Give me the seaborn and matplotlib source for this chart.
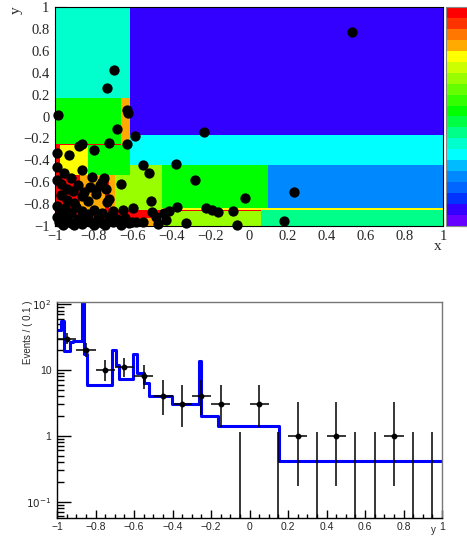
import numpy as np
import seaborn as sns
import matplotlib as mpl
import matplotlib.pyplot as plt
from matplotlib.patches import Rectangle
from matplotlib.colors import ListedColormap, LogNorm
from matplotlib.ticker import MultipleLocator, FixedLocator, FuncFormatter, NullFormatter, LogLocator

sns.set_style('ticks')
plt.rcParams['font.family'] = ['Liberation Sans', 'DejaVu Sans']

# palette of the density levels (bottom to top of the colour bar)
palette = ['#6600ff', '#3300ff', '#0033ff', '#0066ff', '#0088ff', '#00bbff', '#00ffff',
           '#00ffcc', '#00ff88', '#00ff44', '#00ff00', '#33ff00', '#66ff00', '#99ff00',
           '#ccff00', '#ffff00', '#ffaa00', '#ff7700', '#ff3300', '#ff0000']

# cells of the binned 2D density (x range, y range, colour level)
cell_x0 = [-0.613, -1, -1, -0.66, -1, -0.613, -1, -0.975, -0.83, -1, -0.87, -0.74,
           -0.72, -0.69, -0.613, -0.87, -0.87, -0.62, -0.45, 0.1, -0.45, -0.45, -0.45, 0.06]
cell_x1 = [1, -0.613, -0.66, -0.613, -0.66, 1, -0.975, -0.83, -0.613, -0.87, -0.74, -0.72,
           -0.69, -0.613, -0.45, -0.45, -0.62, -0.45, 0.1, 1, 1, 0.06, 0.06, 1]
cell_y0 = [-0.165, 0.165, -0.25, -0.262, -0.262, -0.44, -0.53, -0.53, -0.53, -1, -0.85, -0.85,
           -0.85, -0.85, -0.85, -0.93, -1, -1, -0.84, -0.84, -0.852, -0.862, -1, -1]
cell_y1 = [1, 1, 0.165, 0.165, -0.25, -0.165, -0.262, -0.262, -0.262, -0.53, -0.53, -0.53,
           -0.53, -0.53, -0.44, -0.85, -0.93, -0.93, -0.44, -0.44, -0.84, -0.852, -0.862, -0.852]
cell_level = [1, 7, 10, 16, 19, 6, 19, 15, 10, 19, 16, 19,
              16, 13, 13, 19, 19, 16, 10, 4, 15, 19, 13, 8]

# generated events
pts_x = [0.53, -0.695, -0.73, -0.985, -0.63, -0.625,
         -0.23, -0.68, -0.59,
         -0.86, -0.875, -0.72, -0.63,
         -0.80, -0.99, -0.93,
         -0.99, -0.86, -0.545, -0.375,
         -0.515, -0.28, -0.955, -0.99, -0.92, -0.81, -0.745, -0.76,
         0.23, -0.66, -0.82, -0.97, -0.94, -0.905, -0.88, -0.85, -0.79, -0.77, -0.735,
         -0.505, -0.02, -0.73, -0.72, -0.94, -0.90, -0.86, -0.83, -0.97, -0.79,
         -0.60, -0.37, -0.22, -0.19, -0.16, -0.085, -0.41, -0.44, -0.50, -0.99,
         -0.97, -0.95, -0.92, -0.89, -0.86, -0.83, -0.80, -0.76, -0.70, -0.65,
         -0.06, -0.325, 0.18, -0.43, -0.48, -0.47, -0.545, -0.58, -0.605, -0.99,
         -0.98, -0.96, -0.94, -0.92, -0.90, -0.88, -0.86, -0.84, -0.82, -0.80,
         -0.78, -0.76, -0.74, -0.72, -0.70, -0.68, -0.66, -0.64, -0.95, -0.62]
pts_y = [0.77, 0.425, 0.26, 0.01, 0.055, 0.03,
         -0.14, -0.115, -0.18,
         -0.25, -0.27, -0.245, -0.255,
         -0.305, -0.33, -0.35,
         -0.46, -0.485, -0.445, -0.435,
         -0.515, -0.58, -0.52, -0.58, -0.565, -0.55, -0.565, -0.595,
         -0.685, -0.62, -0.64, -0.62, -0.665, -0.68, -0.63, -0.69, -0.67, -0.625, -0.66,
         -0.77, -0.745, -0.78, -0.75, -0.76, -0.79, -0.73, -0.77, -0.72, -0.71,
         -0.84, -0.83, -0.835, -0.855, -0.87, -0.86, -0.865, -0.885, -0.87, -0.82,
         -0.87, -0.84, -0.88, -0.83, -0.86, -0.89, -0.85, -0.88, -0.86, -0.85,
         -0.99, -0.975, -0.95, -0.945, -0.915, -0.98, -0.96, -0.96, -0.965, -0.92,
         -0.96, -0.99, -0.93, -0.97, -0.995, -0.94, -0.98, -0.92, -0.96, -0.99,
         -0.93, -0.97, -0.995, -0.92, -0.96, -0.94, -0.99, -0.93, -0.905, -0.975]

# 68% Poisson intervals used for the error bars
pois_n = [0, 1, 3, 4, 8, 10, 11, 20, 30]
pois_lo = [0, 0.173, 1.367, 2.086, 5.24, 6.90, 7.74, 15.57, 24.56]
pois_hi = [1.148, 3.300, 5.918, 7.163, 11.94, 14.26, 15.41, 25.54, 36.53]

# projected model (step function)
model_edges = [-1, -0.979, -0.966, -0.931, -0.917, -0.871, -0.860, -0.845, -0.716, -0.693,
               -0.676, -0.605, -0.583, -0.548, -0.52, -0.405, -0.264, -0.25, -0.166, 0.155, 1]
model_vals = [40, 55, 19.2, 26.7, 27.9, 110, 17.5, 6.0, 20, 12,
              7.4, 17.5, 9.1, 6.4, 4.0, 3.0, 13.9, 1.97, 1.42, 0.41]

W, H = 467, 536
fig = plt.figure(figsize=(W / 100, H / 100), dpi=100)
ax1 = fig.add_axes([55 / W, 1 - 226 / H, 388 / W, 219 / H])
cax = fig.add_axes([446 / W, 1 - 226 / H, 22 / W, 219 / H])
ax2 = fig.add_axes([57 / W, 1 - 518 / H, 385 / W, 216 / H])

cmap = ListedColormap(palette)

# ---- top: 2D density with events
for x0, x1, y0, y1, lv in zip(cell_x0, cell_x1, cell_y0, cell_y1, cell_level):
    ax1.add_patch(Rectangle((x0, y0), x1 - x0, y1 - y0, facecolor=cmap(lv),
                            edgecolor='none', zorder=1))
sns.scatterplot(x=pts_x, y=pts_y, ax=ax1, color='black', s=55, linewidth=0,
                clip_on=False, zorder=5, legend=False)
ax1.set_xlim(-1, 1)
ax1.set_ylim(-1, 1)
root_fmt = FuncFormatter(lambda v, _: ('%g' % round(v, 2)).replace('-', '\u2212'))
for axis in (ax1.xaxis, ax1.yaxis):
    axis.set_major_locator(MultipleLocator(0.2))
    axis.set_minor_locator(MultipleLocator(0.04))
    axis.set_major_formatter(root_fmt)
ax1.tick_params(which='both', direction='in', top=False, right=False,
                labelsize=10.5, labelfontfamily='Liberation Serif', width=0.8, color='black')
ax1.tick_params(axis='y', which='major', length=8, pad=4)
ax1.tick_params(axis='y', which='minor', length=4)
ax1.tick_params(axis='x', which='major', length=6, pad=3)
ax1.tick_params(axis='x', which='minor', length=3)
for sp in ax1.spines.values():
    sp.set_color('black')
    sp.set_linewidth(0.8)
fig.text(16 / W, 1 - 6 / H, 'y', rotation=90, ha='center', va='top',
         fontsize=11, family='Liberation Serif')
fig.text(441 / W, 1 - 240 / H, 'x', ha='right', va='top',
         fontsize=11, family='Liberation Serif')

# colour bar (log z axis, labels fall outside the canvas)
cb = fig.colorbar(mpl.cm.ScalarMappable(norm=LogNorm(0.1, 50), cmap=cmap), cax=cax)
cb.outline.set_edgecolor('#888888')
cb.outline.set_linewidth(0.8)
cax.yaxis.set_major_formatter(NullFormatter())
cax.yaxis.set_minor_formatter(NullFormatter())
cax.tick_params(which='both', direction='in', right=True, left=False, color='#333333')
cax.tick_params(which='major', length=6)
cax.tick_params(which='minor', length=3)

# ---- bottom: projection on y with model
bins = np.linspace(-1, 1, 21)
counts = np.histogram(pts_y, bins=bins)[0]
centers = 0.5 * (bins[:-1] + bins[1:])
lo_map = dict(zip(pois_n, pois_lo))
hi_map = dict(zip(pois_n, pois_hi))
nz = counts > 0
c_nz = counts[nz]
err_lo = c_nz - np.array([lo_map[c] for c in c_nz])
err_hi = np.array([hi_map[c] for c in c_nz]) - c_nz

ax2.set_yscale('log')
steps_y = model_vals + [model_vals[-1]]
sns.lineplot(x=model_edges, y=steps_y, ax=ax2, drawstyle='steps-post', color='#0000ff',
             lw=2.2, estimator=None, sort=False, zorder=2)
ax2.errorbar(centers[nz], c_nz, xerr=0.05, yerr=[err_lo, err_hi], fmt='o', ms=3.2,
             color='black', elinewidth=1.1, capsize=0, zorder=3)
ax2.vlines(centers[~nz], 1e-3, hi_map[0], color='black', lw=1.1, zorder=3)
ax2.set_xlim(-1, 1)
ax2.set_ylim(0.0565, 108)
ax2.xaxis.set_major_locator(MultipleLocator(0.2))
ax2.xaxis.set_minor_locator(MultipleLocator(0.05))
ax2.xaxis.set_major_formatter(root_fmt)
ax2.yaxis.set_major_locator(FixedLocator([0.1, 1, 10, 100]))
ax2.yaxis.set_major_formatter(FuncFormatter(
    lambda v, _: {0.1: '$10^{-1}$', 1: '1', 10: '10', 100: '$10^{2}$'}.get(round(v, 1), '')))
ax2.yaxis.set_minor_locator(LogLocator(base=10, subs=np.arange(2, 10)))
ax2.yaxis.set_minor_formatter(NullFormatter())
ax2.tick_params(which='both', direction='in', top=False, right=False, labelsize=7.5,
                width=1, color='black')
ax2.tick_params(axis='y', which='major', length=10, pad=4)
ax2.tick_params(axis='y', which='minor', length=5)
ax2.tick_params(axis='x', which='major', length=6, pad=3)
ax2.tick_params(axis='x', which='minor', length=3)
ax2.spines['left'].set_color('black')
ax2.spines['bottom'].set_color('black')
ax2.spines['top'].set_color('#777777')
ax2.spines['right'].set_color('#777777')
for sp in ax2.spines.values():
    sp.set_linewidth(1)
ax2.set_xlabel('')
ax2.set_ylabel('')
fig.text(28 / W, 1 - 300 / H, 'Events / ( 0.1 )', rotation=90, ha='center', va='top',
         fontsize=7)
fig.text(436 / W, 3 / H, 'y', ha='right', va='baseline', fontsize=7)

fig.savefig('out.png', dpi=100)
